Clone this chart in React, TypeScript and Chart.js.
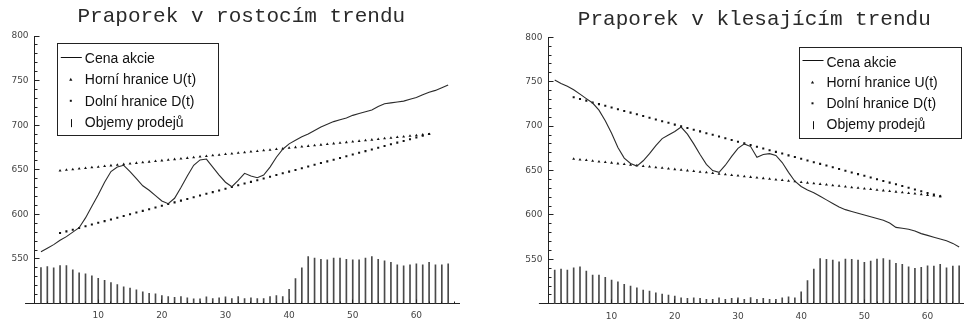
import React, { useEffect, useRef } from 'react';
import { Chart, registerables } from 'chart.js';

Chart.register(...registerables);

// ---- data -------------------------------------------------------------

const days = [
  1, 2, 3, 4, 5, 6, 7, 8, 9, 10, 11, 12, 13, 14, 15, 16, 17, 18, 19, 20,
  21, 22, 23, 24, 25, 26, 27, 28, 29, 30, 31, 32, 33, 34, 35, 36, 37, 38, 39, 40,
  41, 42, 43, 44, 45, 46, 47, 48, 49, 50, 51, 52, 53, 54, 55, 56, 57, 58, 59, 60,
  61, 62, 63, 64, 65,
];

const boundDays = [
  4, 5, 6, 7, 8, 9, 10, 11, 12, 13, 14, 15, 16, 17, 18, 19, 20, 21, 22, 23,
  24, 25, 26, 27, 28, 29, 30, 31, 32, 33, 34, 35, 36, 37, 38, 39, 40, 41, 42, 43,
  44, 45, 46, 47, 48, 49, 50, 51, 52, 53, 54, 55, 56, 57, 58, 59, 60, 61, 62,
];

const priceTicks = [550, 600, 650, 700, 750, 800];
const dayTicks = [10, 20, 30, 40, 50, 60];
const volumeBase = 500;

const seriesLabels = ['Cena akcie', 'Horní hranice U(t)', 'Dolní hranice D(t)', 'Objemy prodejů'];

const risingTitle = 'Praporek v rostocím trendu';
const fallingTitle = 'Praporek v klesajícím trendu';

// rising flag
const risingPrice = [
  558, 562, 566, 571, 575, 580, 585, 596, 609, 622,
  636, 648, 653, 655, 648, 640, 632, 627, 621, 615,
  612, 618, 630, 643, 655, 661, 662, 653, 644, 636,
  631, 638, 646, 643, 641, 644, 653, 664, 673, 679,
  683, 687, 690, 694, 698, 701, 704, 706, 708, 711,
  713, 715, 717, 721, 724, 725, 726, 727, 729, 731,
  734, 737, 739, 742, 745,
];

const risingUpper = [
  649.0, 649.7, 650.4, 651.1, 651.8, 652.5, 653.2, 653.9, 654.7, 655.4,
  656.1, 656.8, 657.5, 658.2, 658.9, 659.6, 660.3, 661.0, 661.7, 662.4,
  663.1, 663.8, 664.6, 665.3, 666.0, 666.7, 667.4, 668.1, 668.8, 669.5,
  670.2, 670.9, 671.6, 672.3, 673.0, 673.7, 674.4, 675.2, 675.9, 676.6,
  677.3, 678.0, 678.7, 679.4, 680.1, 680.8, 681.5, 682.2, 682.9, 683.6,
  684.3, 685.1, 685.8, 686.5, 687.2, 687.9, 688.6, 689.3, 690.0,
];

const risingLower = [
  579.0, 580.9, 582.8, 584.7, 586.7, 588.6, 590.5, 592.4, 594.3, 596.2,
  598.1, 600.1, 602.0, 603.9, 605.8, 607.7, 609.6, 611.5, 613.4, 615.4,
  617.3, 619.2, 621.1, 623.0, 624.9, 626.8, 628.8, 630.7, 632.6, 634.5,
  636.4, 638.3, 640.2, 642.2, 644.1, 646.0, 647.9, 649.8, 651.7, 653.6,
  655.6, 657.5, 659.4, 661.3, 663.2, 665.1, 667.0, 669.0, 670.9, 672.8,
  674.7, 676.6, 678.5, 680.4, 682.3, 684.3, 686.2, 688.1, 690.0,
];

const risingVolume = [
  540.3, 541.4, 540.0, 542.6, 542.6, 537.7, 534.3, 533.2, 531.0, 528.3,
  526.0, 523.5, 521.2, 518.6, 517.2, 515.2, 513.0, 511.5, 510.8, 508.9,
  507.8, 507.0, 507.8, 506.3, 505.2, 505.2, 507.4, 505.6, 506.3, 507.4,
  505.6, 507.8, 505.6, 506.3, 505.6, 505.6, 507.8, 508.9, 507.8, 516.0,
  528.0, 540.0, 552.6, 550.8, 549.6, 548.9, 550.8, 550.8, 549.6, 548.9,
  548.9, 550.8, 552.6, 549.6, 547.8, 546.3, 543.3, 542.2, 543.3, 544.4,
  543.3, 546.3, 543.3, 543.3, 544.4,
];

// falling flag
const fallingPrice = [
  752, 748, 745, 741, 736, 731, 726, 718, 706, 692,
  676, 664, 658, 655, 661, 669, 678, 686, 690, 694,
  699, 691, 680, 668, 657, 650, 648, 656, 666, 675,
  680, 677, 665, 668, 669, 667, 659, 648, 638, 632,
  628, 625, 621, 617, 613, 609, 606, 604, 602, 600,
  598, 596, 594, 591, 586, 585, 584, 582, 579, 577,
  575, 573, 571, 568, 564,
];

const fallingUpper = [
  663.0, 662.3, 661.6, 660.8, 660.1, 659.4, 658.7, 657.9, 657.2, 656.5,
  655.8, 655.0, 654.3, 653.6, 652.9, 652.1, 651.4, 650.7, 650.0, 649.2,
  648.5, 647.8, 647.1, 646.3, 645.6, 644.9, 644.2, 643.4, 642.7, 642.0,
  641.3, 640.6, 639.8, 639.1, 638.4, 637.7, 636.9, 636.2, 635.5, 634.8,
  634.0, 633.3, 632.6, 631.9, 631.1, 630.4, 629.7, 629.0, 628.2, 627.5,
  626.8, 626.1, 625.3, 624.6, 623.9, 623.2, 622.4, 621.7, 621.0,
];

const fallingLower = [
  732.5, 730.6, 728.7, 726.7, 724.8, 722.9, 721.0, 719.0, 717.1, 715.2,
  713.3, 711.4, 709.4, 707.5, 705.6, 703.7, 701.7, 699.8, 697.9, 696.0,
  694.1, 692.1, 690.2, 688.3, 686.4, 684.4, 682.5, 680.6, 678.7, 676.7,
  674.8, 672.9, 671.0, 669.1, 667.1, 665.2, 663.3, 661.4, 659.4, 657.5,
  655.6, 653.7, 651.8, 649.8, 647.9, 646.0, 644.1, 642.1, 640.2, 638.3,
  636.4, 634.5, 632.5, 630.6, 628.7, 626.8, 624.8, 622.9, 621.0,
];

const fallingVolume = [
  537.9, 539.0, 537.9, 540.5, 541.7, 536.8, 532.3, 532.3, 529.7, 526.7,
  524.8, 521.8, 519.9, 518.0, 515.4, 514.3, 512.4, 510.9, 509.8, 508.7,
  506.8, 506.1, 506.8, 506.1, 505.0, 505.0, 506.8, 505.0, 506.1, 506.8,
  505.0, 507.0, 505.0, 506.1, 505.0, 505.0, 506.8, 507.9, 506.8, 513.5,
  526.0, 539.0, 551.0, 550.0, 549.2, 547.3, 550.3, 550.0, 549.2, 546.6,
  548.1, 550.3, 551.0, 549.2, 545.5, 544.4, 541.7, 539.9, 541.0, 542.8,
  542.4, 544.4, 540.5, 542.4, 542.8,
];

// ---- panel layout -----------------------------------------------------

const CANVAS_W = 482;
const CANVAS_H = 323;

type PanelSpec = {
  title: string;
  price: number[];
  upper: number[];
  lower: number[];
  volume: number[];
  left: number;
  axisX: number;
  plotRight: number;
  plotTop: number;
  plotBottom: number;
  dayMax: number;
  titleX: number;
  titleBaseline: number;
  legendBox: [number, number, number, number];
};

const risingPanel: PanelSpec = {
  title: risingTitle,
  price: risingPrice,
  upper: risingUpper,
  lower: risingLower,
  volume: risingVolume,
  left: 0,
  axisX: 34.6,
  plotRight: 459,
  plotTop: 36,
  plotBottom: 303.5,
  dayMax: 66.7,
  titleX: 241.3,
  titleBaseline: 22,
  legendBox: [57.3, 43.3, 161, 92.4],
};

const fallingPanel: PanelSpec = {
  title: fallingTitle,
  price: fallingPrice,
  upper: fallingUpper,
  lower: fallingLower,
  volume: fallingVolume,
  left: 514,
  axisX: 34.4,
  plotRight: 455.9,
  plotTop: 37.3,
  plotBottom: 303.8,
  dayMax: 66.7,
  titleX: 240.3,
  titleBaseline: 25.3,
  legendBox: [285, 46.7, 161.7, 90.6],
};

const INK = '#222';
const TICK_FONT = { family: '"DejaVu Sans", Verdana, sans-serif', size: 9 };
const TICK_COLOR = '#444';

// title, legend box and the inward tick marks of the two axes
function decorations(spec: PanelSpec) {
  return {
    id: 'flagDecorations',
    afterDatasetsDraw(chart: any) {
      const { ctx, chartArea, scales } = chart;
      const xs = scales.x;
      const ys = scales.y;
      const ax = Math.round(chartArea.left - 0.5) + 0.5;
      const ay = Math.round(chartArea.bottom - 0.5) + 0.5;

      ctx.save();
      ctx.strokeStyle = INK;
      ctx.lineWidth = 1;
      ctx.beginPath();
      // horizontal axis continues a little to the left of the price axis
      ctx.moveTo(xs.getPixelForValue(-1.5), ay);
      ctx.lineTo(ax, ay);
      for (let v = volumeBase + 10; v <= 800; v += 10) {
        const py = Math.round(ys.getPixelForValue(v) - 0.5) + 0.5;
        const len = v % 50 === 0 ? 5 : 3;
        ctx.moveTo(ax, py);
        ctx.lineTo(ax + len, py);
      }
      for (let t = 2; t <= 66; t += 2) {
        const px = Math.round(xs.getPixelForValue(t) - 0.5) + 0.5;
        const len = t % 10 === 0 ? 4 : 2;
        ctx.moveTo(px, ay);
        ctx.lineTo(px, ay - len);
      }
      ctx.stroke();
      ctx.restore();
    },
    afterDraw(chart: any) {
      const { ctx } = chart;
      ctx.save();

      ctx.font = '21px "Liberation Mono", "Courier New", monospace';
      ctx.fillStyle = '#2a2a2a';
      ctx.textAlign = 'center';
      ctx.textBaseline = 'alphabetic';
      ctx.fillText(spec.title, spec.titleX, spec.titleBaseline);

      const [bx, by, bw, bh] = spec.legendBox;
      ctx.fillStyle = '#fff';
      ctx.fillRect(bx, by, bw, bh);
      ctx.strokeStyle = INK;
      ctx.lineWidth = 1;
      ctx.strokeRect(Math.round(bx) + 0.5, Math.round(by) + 0.5, Math.round(bw), Math.round(bh));

      const mx = bx + 13.5;
      const rowGap = (bh - 7) / 4;
      ctx.fillStyle = '#111';
      ctx.strokeStyle = '#111';
      ctx.font = '14px "Liberation Sans", Arial, sans-serif';
      ctx.textAlign = 'left';
      const labels = chart.data.datasets.map((d: any) => d.label);
      labels.forEach((label: string, i: number) => {
        const base = by + 19.8 + i * rowGap;
        ctx.fillText(label, bx + 27.5, base);
        const cy = base - 5;
        if (i === 0) {
          ctx.beginPath();
          ctx.moveTo(bx + 3.5, Math.round(cy - 1.5) + 0.5);
          ctx.lineTo(bx + 24.5, Math.round(cy - 1.5) + 0.5);
          ctx.stroke();
        } else if (i === 1) {
          ctx.beginPath();
          ctx.moveTo(mx, cy - 1.6);
          ctx.lineTo(mx + 1.6, cy + 1.2);
          ctx.lineTo(mx - 1.6, cy + 1.2);
          ctx.closePath();
          ctx.fill();
        } else if (i === 2) {
          ctx.fillRect(mx - 1, cy - 1, 2, 2);
        } else {
          ctx.beginPath();
          ctx.moveTo(Math.round(mx) + 0.5, base - 8);
          ctx.lineTo(Math.round(mx) + 0.5, base);
          ctx.stroke();
        }
      });
      ctx.restore();
    },
  };
}

function buildConfig(spec: PanelSpec): any {
  const pricePoints = days.map((d, i) => ({ x: d, y: spec.price[i] }));
  const upperPoints = boundDays.map((d, i) => ({ x: d, y: spec.upper[i] }));
  const lowerPoints = boundDays.map((d, i) => ({ x: d, y: spec.lower[i] }));
  const volumeBars = days.map((d, i) => ({ x: d, y: [volumeBase, spec.volume[i]] }));

  return {
    type: 'line',
    data: {
      datasets: [
        {
          type: 'line',
          label: seriesLabels[0],
          data: pricePoints,
          borderColor: '#2b2b2b',
          borderWidth: 1.1,
          pointRadius: 0,
          tension: 0,
          order: 1,
        },
        {
          type: 'line',
          label: seriesLabels[1],
          data: upperPoints,
          showLine: false,
          pointStyle: 'triangle',
          pointRadius: 1.7,
          pointBackgroundColor: '#111',
          pointBorderWidth: 0,
          order: 2,
        },
        {
          type: 'line',
          label: seriesLabels[2],
          data: lowerPoints,
          showLine: false,
          pointStyle: 'rect',
          pointRadius: 1.45,
          pointBackgroundColor: '#111',
          pointBorderWidth: 0,
          order: 3,
        },
        {
          type: 'bar',
          label: seriesLabels[3],
          data: volumeBars,
          backgroundColor: '#4a4a4a',
          borderWidth: 0,
          barThickness: 1,
          grouped: false,
          order: 4,
        },
      ],
    },
    options: {
      animation: false,
      responsive: false,
      events: [],
      layout: {
        padding: {
          left: 0,
          top: spec.plotTop,
          right: CANVAS_W - spec.plotRight,
          bottom: 0,
        },
      },
      plugins: {
        legend: { display: false },
        tooltip: { enabled: false },
        title: { display: false },
      },
      scales: {
        x: {
          type: 'linear',
          min: 0,
          max: spec.dayMax,
          offset: false,
          grid: { display: false, drawTicks: false },
          border: { display: true, color: INK, width: 1 },
          ticks: { font: TICK_FONT, color: TICK_COLOR, padding: 7, maxRotation: 0, autoSkip: false },
          afterBuildTicks: (scale: any) => {
            scale.ticks = dayTicks.map((v) => ({ value: v }));
          },
          afterFit: (scale: any) => {
            scale.height = CANVAS_H - spec.plotBottom;
          },
        },
        y: {
          type: 'linear',
          min: volumeBase,
          max: 800,
          grid: { display: false, drawTicks: false },
          border: { display: true, color: INK, width: 1 },
          ticks: { font: TICK_FONT, color: TICK_COLOR, padding: 6 },
          afterBuildTicks: (scale: any) => {
            scale.ticks = priceTicks.map((v) => ({ value: v }));
          },
          afterFit: (scale: any) => {
            scale.width = spec.axisX;
          },
        },
      },
    },
    plugins: [decorations(spec)],
  };
}

function FlagPanel({ spec }: { spec: PanelSpec }) {
  const canvasRef = useRef<HTMLCanvasElement | null>(null);

  useEffect(() => {
    if (!canvasRef.current) return;
    const chart = new Chart(canvasRef.current, buildConfig(spec));
    return () => chart.destroy();
  }, [spec]);

  return (
    <div style={{ position: 'absolute', left: spec.left, top: 0, width: CANVAS_W, height: CANVAS_H }}>
      <canvas ref={canvasRef} width={CANVAS_W} height={CANVAS_H} style={{ display: 'block' }} />
    </div>
  );
}

export default function App() {
  return (
    <div
      style={{
        position: 'fixed',
        left: 0,
        top: 0,
        width: 964,
        height: 323,
        overflow: 'hidden',
        background: '#fff',
      }}
    >
      <FlagPanel spec={risingPanel} />
      <FlagPanel spec={fallingPanel} />
    </div>
  );
}
